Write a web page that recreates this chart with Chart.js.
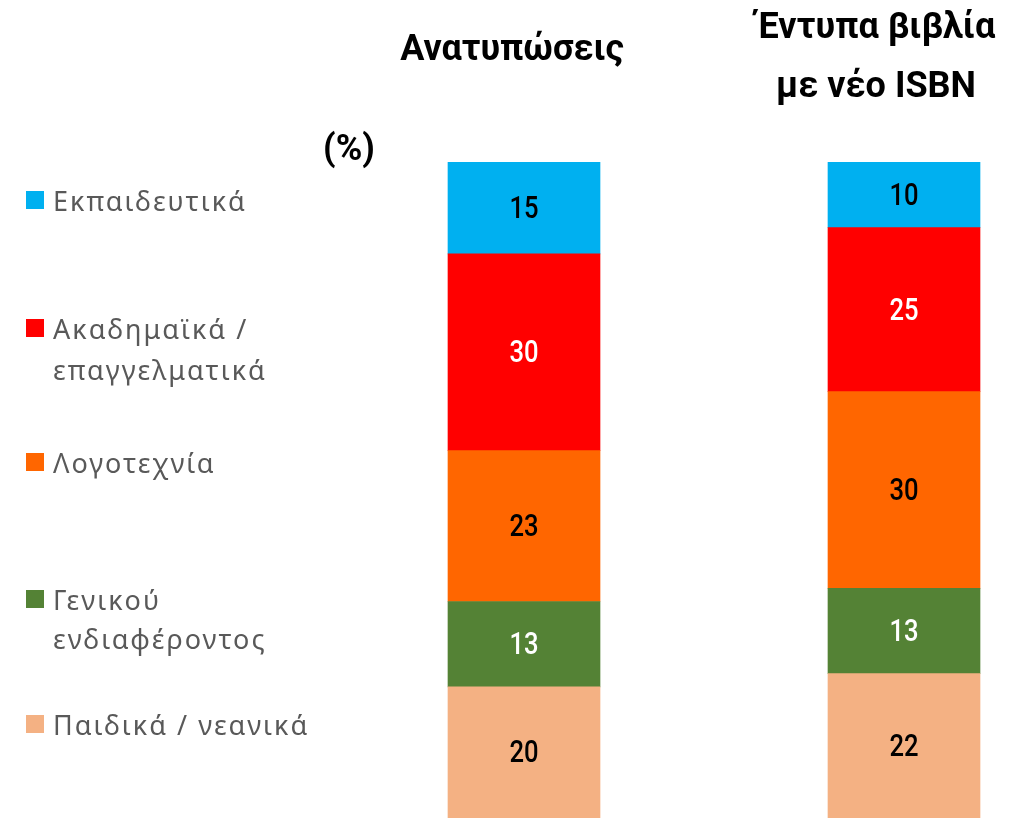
<!DOCTYPE html>
<html lang="el">
<head>
    <meta charset="UTF-8">
    <title>Ανατυπώσεις / Έντυπα βιβλία</title>
    <script src="https://cdn.jsdelivr.net/npm/chart.js"></script>
    <style>
        html, body { margin: 0; padding: 0; background: #fff; overflow: hidden; }
        canvas { display: block; }
    </style>
</head>
<body>
    <canvas id="graphe" width="1031" height="818"></canvas>
    <script>
    // categories (column titles)
    const categories = ['Ανατυπώσεις', 'Έντυπα βιβλία με νέο ISBN'];
    const titleLines = [['Ανατυπώσεις'], ['Έντυπα βιβλία', 'με νέο ISBN']];

    // series, bottom to top
    const paidika = [20, 22];
    const genikou = [13, 13];
    const logotexnia = [23, 30];
    const akadimaika = [30, 25];
    const ekpaideutika = [15, 10];

    const seriesNames = ['Παιδικά / νεανικά', 'Γενικού ενδιαφέροντος', 'Λογοτεχνία', 'Ακαδημαϊκά / επαγγελματικά', 'Εκπαιδευτικά'];
    const legendLines = [['Εκπαιδευτικά'], ['Ακαδημαϊκά /', 'επαγγελματικά'], ['Λογοτεχνία'], ['Γενικού', 'ενδιαφέροντος'], ['Παιδικά / νεανικά']];
    const colors = ['#F4B183', '#548235', '#FF6600', '#FF0000', '#00B0F0'];
    const labelColors = ['#000', '#fff', '#000', '#fff', '#000'];

    const series = [paidika, genikou, logotexnia, akadimaika, ekpaideutika];

    // valeurs au centre de chaque segment
    const valeursPlugin = {
        id: 'valeurs',
        afterDatasetsDraw(chart) {
            const ctx = chart.ctx;
            const area = chart.chartArea;
            chart.data.datasets.forEach((ds, i) => {
                const meta = chart.getDatasetMeta(i);
                meta.data.forEach((bar, j) => {
                    const top = Math.max(Math.min(bar.y, bar.base), area.top);
                    const bottom = Math.min(Math.max(bar.y, bar.base), area.bottom);
                    ctx.save();
                    ctx.translate(bar.x, (top + bottom) / 2);
                    ctx.scale(0.8, 1);
                    ctx.fillStyle = labelColors[i];
                    ctx.font = '500 32px Roboto';
                    ctx.textAlign = 'center';
                    ctx.textBaseline = 'middle';
                    ctx.fillText(String(ds.data[j]), 0, 2);
                    ctx.restore();
                });
            });
        }
    };

    // légende à gauche + titres des colonnes
    const habillagePlugin = {
        id: 'habillage',
        afterDraw(chart) {
            const ctx = chart.ctx;
            ctx.save();
            // titres
            ctx.fillStyle = '#000';
            ctx.font = 'bold 36px Roboto';
            ctx.textAlign = 'center';
            ctx.textBaseline = 'alphabetic';
            ctx.fillText(titleLines[0][0], 512, 60);
            ctx.fillText(titleLines[1][0], 876, 38);
            ctx.fillText(titleLines[1][1], 876, 97);
            ctx.fillText('(%)', 349, 160);

            // légende
            const baselines = [[211], [339, 380], [473], [610, 649], [735]];
            const legendColors = colors.slice().reverse();
            ctx.font = '27px "Noto Sans"';
            ctx.letterSpacing = '2px';
            ctx.textAlign = 'left';
            legendLines.forEach((lines, k) => {
                ctx.fillStyle = legendColors[k];
                ctx.fillRect(26, baselines[k][0] - 20, 18, 18);
                ctx.fillStyle = '#595959';
                lines.forEach((t, m) => ctx.fillText(t, 53, baselines[k][m]));
            });
            ctx.restore();
        }
    };

    new Chart(document.getElementById('graphe').getContext('2d'), {
        type: 'bar',
        data: {
            labels: categories,
            datasets: series.map((vals, i) => ({
                label: seriesNames[i],
                data: vals,
                backgroundColor: colors[i],
                borderWidth: 0,
                barThickness: 152,
                clip: { left: false, right: false, top: 0, bottom: 0 }
            }))
        },
        options: {
            responsive: false,
            animation: false,
            layout: { padding: { left: 524, right: 127, top: 162, bottom: 0 } },
            scales: {
                x: { stacked: true, offset: false, display: false },
                y: { stacked: true, min: 0, max: 100, display: false }
            },
            plugins: {
                legend: { display: false },
                tooltip: { enabled: false }
            }
        },
        plugins: [valeursPlugin, habillagePlugin]
    });
    </script>
</body>
</html>
